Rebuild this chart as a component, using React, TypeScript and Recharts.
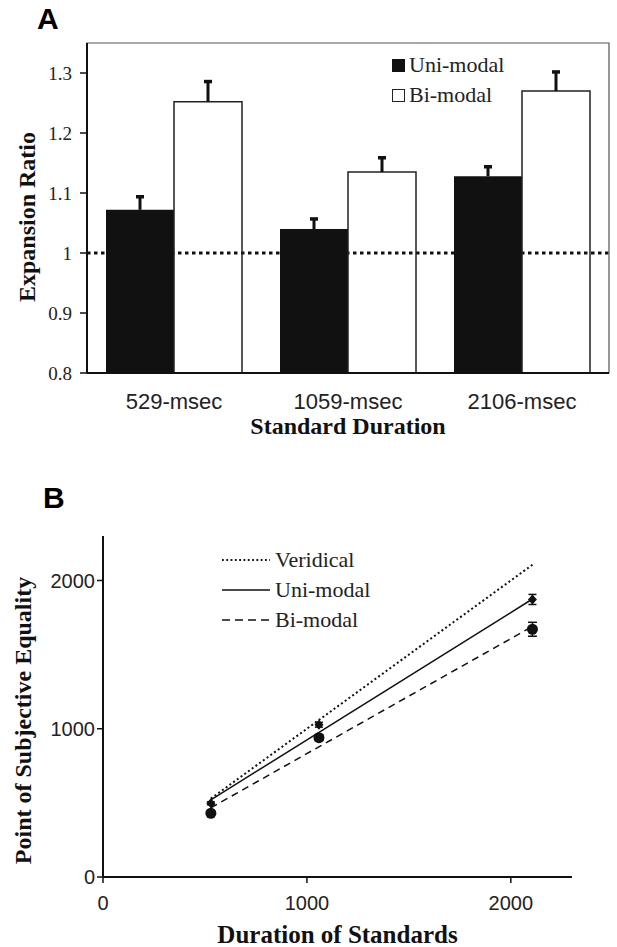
import React from "react";
import {
  BarChart, Bar, XAxis, YAxis, ErrorBar, ReferenceLine, ReferenceArea, Legend,
  ComposedChart, Line, Scatter,
} from "recharts";

// Panel A: expansion ratio per standard duration
const durations = ["529-msec", "1059-msec", "2106-msec"];
const uniRatio = [1.072, 1.04, 1.128];
const uniRatioErr = [0.023, 0.018, 0.017];
const biRatio = [1.252, 1.135, 1.27];
const biRatioErr = [0.035, 0.025, 0.033];
const ratioTicks = [0.8, 0.9, 1, 1.1, 1.2, 1.3];

// Panel B: PSE vs standard duration
const standards = [529, 1059, 2106];
const pseUni = [497, 1027, 1872];
const pseUniErr = [10, 16, 34];
const pseBi = [430, 940, 1671];
const pseBiErr = [12, 20, 47];
const fitEnds = [529, 2106];
const veridicalFit = [529, 2106];
const uniFit = [520, 1875];
const biFit = [467, 1690];
const pseTicks = [0, 1000, 2000];

const SERIF = "'Liberation Serif', 'Times New Roman', serif";
const SANS = "'Liberation Sans', Arial, sans-serif";
const INK = "#111";

const barData = durations.map((d, i) => ({
  name: d,
  uni: uniRatio[i],
  uniErr: uniRatioErr[i],
  bi: biRatio[i],
  biErr: biRatioErr[i],
}));

const uniPts = standards.map((x, i) => ({ x, y: pseUni[i], err: pseUniErr[i] }));
const biPts = standards.map((x, i) => ({ x, y: pseBi[i], err: pseBiErr[i] }));
const verLine = fitEnds.map((x, i) => ({ x, y: veridicalFit[i] }));
const uniLine = fitEnds.map((x, i) => ({ x, y: uniFit[i] }));
const biLine = fitEnds.map((x, i) => ({ x, y: biFit[i] }));

// upward-only error whisker drawn from the stacked error segment
const Whisker = (p: any) => {
  const mid = p.x + p.width / 2;
  return (
    <g>
      <rect x={mid - 1.5} y={p.y} width={3} height={p.height} fill={INK} />
      <rect x={mid - 4} y={p.y - 1} width={8} height={3.5} fill={INK} />
    </g>
  );
};

const Diamond = (p: any) => (
  <polygon
    points={`${p.cx},${p.cy - 5} ${p.cx + 4.5},${p.cy} ${p.cx},${p.cy + 5} ${p.cx - 4.5},${p.cy}`}
    fill={INK}
  />
);
const Dot = (p: any) => <circle cx={p.cx} cy={p.cy} r={5.5} fill={INK} />;

const LegendA = () => (
  <div style={{ fontFamily: SERIF, fontSize: 22, color: "#222" }}>
    <div style={{ display: "flex", alignItems: "center", height: 30 }}>
      <span style={{ width: 13, height: 13, background: INK, marginRight: 4 }} />
      Uni-modal
    </div>
    <div style={{ display: "flex", alignItems: "center", height: 30 }}>
      <span style={{ width: 11, height: 11, border: "1px solid #222", marginRight: 4 }} />
      Bi-modal
    </div>
  </div>
);

const legendB = [
  { label: "Veridical", dash: "1.8 2.5", w: 1.8 },
  { label: "Uni-modal", dash: undefined, w: 1.5 },
  { label: "Bi-modal", dash: "8 5", w: 1.5 },
];

const LegendB = () => (
  <div style={{ fontFamily: SERIF, fontSize: 22, color: "#222" }}>
    {legendB.map((r) => (
      <div key={r.label} style={{ display: "flex", alignItems: "center", height: 30 }}>
        <svg width={48} height={10} style={{ marginRight: 5 }}>
          <line x1={0} y1={5} x2={48} y2={5} stroke={INK} strokeWidth={r.w} strokeDasharray={r.dash} />
        </svg>
        {r.label}
      </div>
    ))}
  </div>
);

export default function App() {
  return (
    <div style={{ position: "absolute", left: 0, top: 0, width: 617, height: 947, background: "#fff" }}>
      <div style={{ position: "absolute", left: 37, top: 2, fontFamily: SANS, fontWeight: 700, fontSize: 30 }}>A</div>
      <div style={{ position: "absolute", left: 43, top: 481, fontFamily: SANS, fontWeight: 700, fontSize: 30 }}>B</div>

      <div style={{ position: "absolute", left: 0, top: 0 }}>
        <BarChart
          width={617}
          height={450}
          data={barData}
          margin={{ top: 43, right: 8, left: 0, bottom: 0 }}
          barGap={0}
          barSize={68}
        >
          <ReferenceArea y1={0.8} y2={1.35} fill="none" stroke="#555" strokeWidth={1.2} />
          <ReferenceLine y={1} stroke={INK} strokeWidth={3} strokeDasharray="3.5 3.5" zIndex={-1} />
          <XAxis
            dataKey="name"
            height={77}
            tickLine={false}
            axisLine={{ stroke: INK, strokeWidth: 2 }}
            tick={{ fontFamily: SANS, fontSize: 22, fill: "#222" }}
            tickMargin={14}
            label={{ value: "Standard Duration", position: "insideBottom", offset: 16, style: { fontFamily: SERIF, fontWeight: 700, fontSize: 24, fill: INK } }}
          />
          <YAxis
            domain={[0.8, 1.35]}
            allowDataOverflow
            ticks={ratioTicks}
            width={87}
            tickSize={7}
            tickMargin={8}
            tickFormatter={(v) => String(v)}
            axisLine={{ stroke: INK, strokeWidth: 2 }}
            tickLine={{ stroke: INK, strokeWidth: 1.5 }}
            tick={{ fontFamily: SERIF, fontSize: 19, fill: "#222" }}
            label={{ value: "Expansion Ratio", angle: -90, position: "insideLeft", offset: 26, dy: 9, style: { textAnchor: "middle", fontFamily: SERIF, fontWeight: 700, fontSize: 24, fill: INK } }}
          />
          <Legend layout="vertical" verticalAlign="middle" align="center" content={LegendA} wrapperStyle={{ top: 50, left: 392, width: "auto" }} />
          <Bar dataKey="uni" stackId="u" fill={INK} isAnimationActive={false} />
          <Bar dataKey="uniErr" stackId="u" shape={Whisker} isAnimationActive={false} />
          <Bar dataKey="bi" stackId="b" fill="none" stroke="#222" strokeWidth={1.5} isAnimationActive={false} />
          <Bar dataKey="biErr" stackId="b" shape={Whisker} isAnimationActive={false} />
        </BarChart>
      </div>

      <div style={{ position: "absolute", left: 0, top: 450 }}>
        <ComposedChart width={617} height={497} margin={{ top: 86, right: 45, left: 0, bottom: 0 }}>
          <XAxis
            type="number"
            dataKey="x"
            domain={[0, 2300]}
            ticks={pseTicks}
            height={70}
            tickSize={6}
            tickMargin={13}
            axisLine={{ stroke: INK, strokeWidth: 2 }}
            tickLine={{ stroke: INK, strokeWidth: 1.5 }}
            tick={{ fontFamily: SANS, fontSize: 20, fill: "#222" }}
            label={{ value: "Duration of Standards", position: "insideBottom", offset: 4, style: { fontFamily: SERIF, fontWeight: 700, fontSize: 25, fill: INK } }}
          />
          <YAxis
            type="number"
            dataKey="y"
            domain={[0, 2300]}
            ticks={pseTicks}
            width={103}
            tickSize={6}
            axisLine={{ stroke: INK, strokeWidth: 2 }}
            tickLine={{ stroke: INK, strokeWidth: 1.5 }}
            tick={{ fontFamily: SANS, fontSize: 20, fill: "#222" }}
            label={{ value: "Point of Subjective Equality", angle: -90, position: "insideLeft", offset: 22, dy: 14, style: { textAnchor: "middle", fontFamily: SERIF, fontWeight: 700, fontSize: 24, fill: INK } }}
          />
          <Legend layout="vertical" verticalAlign="middle" align="center" content={LegendB} wrapperStyle={{ top: 95, left: 222, width: "auto" }} />
          <Line data={verLine} dataKey="y" stroke={INK} strokeWidth={2} strokeDasharray="2 2.6" dot={false} isAnimationActive={false} />
          <Line data={uniLine} dataKey="y" stroke={INK} strokeWidth={1.5} dot={false} isAnimationActive={false} />
          <Line data={biLine} dataKey="y" stroke={INK} strokeWidth={1.5} strokeDasharray="7 5" dot={false} isAnimationActive={false} />
          <Scatter data={uniPts} dataKey="y" shape={Diamond} isAnimationActive={false}>
            <ErrorBar dataKey="err" direction="y" width={4} stroke={INK} strokeWidth={1.5} />
          </Scatter>
          <Scatter data={biPts} dataKey="y" shape={Dot} isAnimationActive={false}>
            <ErrorBar dataKey="err" direction="y" width={4.5} stroke={INK} strokeWidth={1.5} />
          </Scatter>
        </ComposedChart>
      </div>
    </div>
  );
}
